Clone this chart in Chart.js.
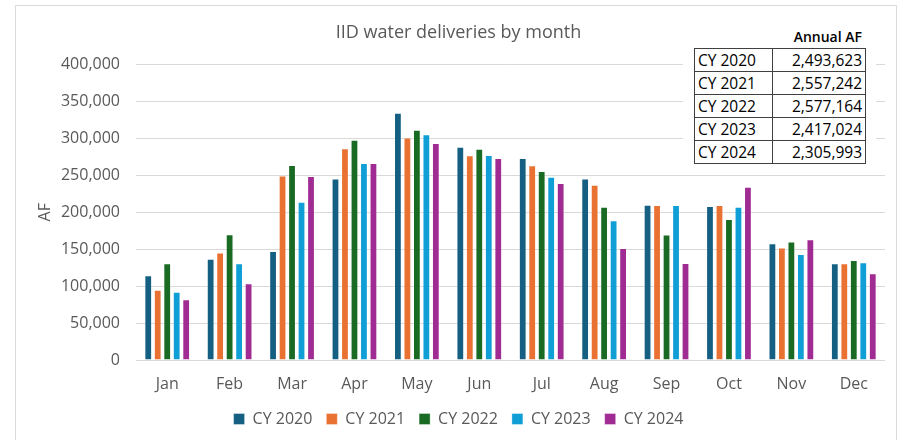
<!DOCTYPE html>
<html>
<head>
<meta charset="utf-8">
<script src="https://cdn.jsdelivr.net/npm/chart.js@4"></script>
<style>
  html, body { margin: 0; padding: 0; background: #fff; overflow: hidden; }
  body { width: 903px; height: 440px; position: relative; }
  #frame { position: absolute; left: 15px; top: 5px; width: 880px; height: 444px; border: 1px solid #d9d9d9; }
  #myChart { position: absolute; left: 0; top: 0; }
  #annual { position: absolute; left: 667px; top: 17px; width: 193px; height: 148px; background: #fff; }
  #annual .head { position: absolute; right: 14px; top: 4px; font: 600 14px "Open Sans", sans-serif; color: #000; }
  #annual table { position: absolute; left: 11px; top: 25px; width: 172px; border-collapse: collapse; font: 15.5px "Open Sans", sans-serif; color: #000; }
  #annual td { border: 1.5px solid #404040; height: 22px; padding: 0 3px; line-height: 20px; }
  #annual td.num { text-align: right; }
</style>
</head>
<body>
<div id="frame">
  <canvas id="myChart" width="880" height="444"></canvas>
  <div id="annual"><div class="head">Annual AF</div><table id="annualTable"></table></div>
</div>
<script>
// Data
var months = ['Jan', 'Feb', 'Mar', 'Apr', 'May', 'Jun', 'Jul', 'Aug', 'Sep', 'Oct', 'Nov', 'Dec'];
var cy2020 = [114700, 137200, 147700, 245900, 334800, 288600, 273600, 245900, 210200, 208400, 158200, 131000];
var cy2021 = [95100, 145400, 250000, 286700, 301200, 277200, 263600, 237400, 210000, 210000, 152200, 131000];
var cy2022 = [131000, 170400, 264100, 298100, 311700, 285900, 256000, 207500, 169800, 190800, 160300, 135500];
var cy2023 = [92400, 131000, 214300, 266800, 305700, 277700, 248200, 189400, 210000, 207500, 143600, 132300];
var cy2024 = [82100, 103800, 249200, 266800, 294000, 273600, 239700, 151800, 131400, 234600, 163600, 117400];

var yearLabels = ['CY 2020', 'CY 2021', 'CY 2022', 'CY 2023', 'CY 2024'];
var annualTotals = [2493623, 2557242, 2577164, 2417024, 2305993];
var colors = ['#156082', '#E97132', '#196B24', '#0F9ED5', '#A02B93'];

// annual table
var tbl = document.getElementById('annualTable');
for (var i = 0; i < yearLabels.length; i++) {
    var tr = document.createElement('tr');
    var td1 = document.createElement('td');
    td1.textContent = yearLabels[i];
    var td2 = document.createElement('td');
    td2.className = 'num';
    td2.textContent = annualTotals[i].toLocaleString('en-US');
    tr.appendChild(td1);
    tr.appendChild(td2);
    tbl.appendChild(tr);
}

var series = [cy2020, cy2021, cy2022, cy2023, cy2024];
var datasets = [];
for (var j = 0; j < series.length; j++) {
    datasets.push({
        label: yearLabels[j],
        data: series[j],
        backgroundColor: colors[j],
        borderColor: 'rgba(255,255,255,0.35)',
        borderWidth: 1,
        categoryPercentage: 0.76,
        barPercentage: 0.82
    });
}

var font = '"Open Sans", sans-serif';
var grey = '#595959';

var ctx = document.getElementById('myChart').getContext('2d');
var myChart = new Chart(ctx, {
    type: 'bar',
    data: { labels: months, datasets: datasets },
    options: {
        responsive: false,
        animation: false,
        layout: { padding: { left: 16, right: 11, top: 0, bottom: 13 } },
        plugins: {
            title: {
                display: true,
                text: 'IID water deliveries by month',
                color: grey,
                font: { family: font, size: 18, weight: 'normal' },
                padding: { top: 16, bottom: 21 }
            },
            legend: {
                position: 'bottom',
                labels: {
                    color: grey,
                    font: { family: font, size: 16 },
                    boxWidth: 11,
                    boxHeight: 11,
                    padding: 14
                }
            },
            tooltip: { enabled: false }
        },
        scales: {
            x: {
                afterFit: function (scale) { scale.height = 37; },
                grid: { display: false, drawTicks: false },
                border: { display: false },
                ticks: { color: grey, font: { family: font, size: 16 }, padding: 15 }
            },
            y: {
                min: 0,
                max: 400000,
                afterFit: function (scale) { scale.width = 104; },
                grid: { color: '#d9d9d9', drawTicks: false },
                border: { display: false },
                ticks: {
                    stepSize: 50000,
                    color: grey,
                    font: { family: font, size: 16 },
                    padding: 16,
                    callback: function (v) { return v.toLocaleString('en-US'); }
                },
                title: {
                    display: true,
                    text: 'AF',
                    color: grey,
                    font: { family: font, size: 16 },
                    padding: { top: 4, bottom: 0 }
                }
            }
        }
    }
});
</script>
</body>
</html>
